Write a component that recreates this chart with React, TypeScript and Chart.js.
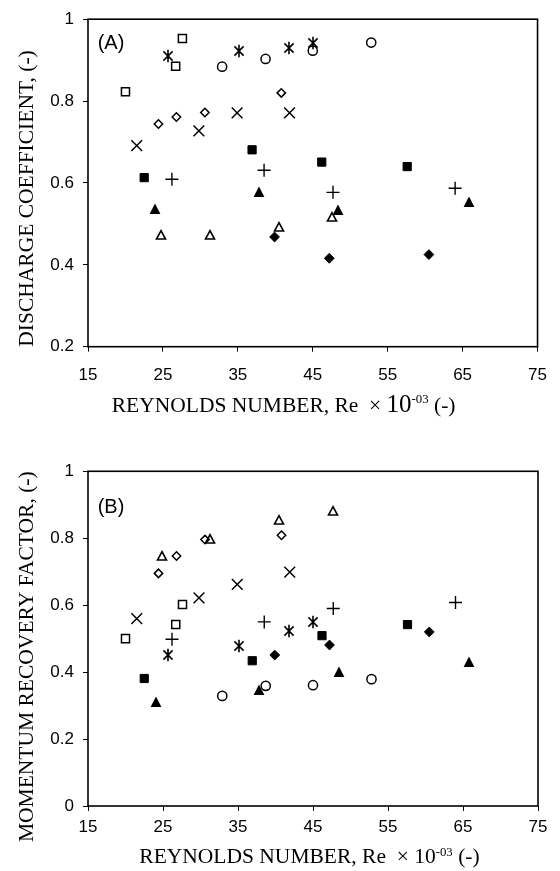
import React, { useEffect, useRef } from "react";
import { Chart, registerables } from "chart.js";

Chart.register(...registerables);

// ---------------- data ----------------
const xTickValues = [15, 25, 35, 45, 55, 65, 75];
const cdTickValues = [0.2, 0.4, 0.6, 0.8, 1];
const mrfTickValues = [0, 0.2, 0.4, 0.6, 0.8, 1];

const openSquareRe = [20.0, 26.7, 27.6];
const openSquareCd = [0.823, 0.885, 0.953];
const openSquareMrf = [0.5, 0.542, 0.602];

const asteriskRe = [25.7, 35.1, 41.8, 45.0];
const asteriskCd = [0.911, 0.923, 0.929, 0.943];
const asteriskMrf = [0.451, 0.479, 0.522, 0.55];

const openCircleRe = [32.9, 38.7, 45.0, 52.8];
const openCircleCd = [0.884, 0.903, 0.923, 0.943];
const openCircleMrf = [0.329, 0.359, 0.361, 0.379];

const openDiamondRe = [24.4, 26.8, 30.6, 40.8];
const openDiamondCd = [0.744, 0.761, 0.772, 0.82];
const openDiamondMrf = [0.695, 0.747, 0.796, 0.809];

const crossRe = [21.5, 29.8, 34.9, 41.9];
const crossCd = [0.691, 0.727, 0.771, 0.771];
const crossMrf = [0.56, 0.622, 0.662, 0.699];

const filledSquareRe = [22.5, 36.9, 46.2, 57.6];
const filledSquareCd = [0.613, 0.681, 0.651, 0.64];
const filledSquareMrf = [0.381, 0.434, 0.509, 0.542];

const plusRe = [26.2, 38.5, 47.7, 64.0];
const plusCd = [0.609, 0.631, 0.577, 0.587];
const plusMrf = [0.498, 0.55, 0.59, 0.608];

const filledTriangleRe = [24.0, 37.8, 48.4, 65.8];
const filledTriangleCd = [0.537, 0.577, 0.535, 0.553];
const filledTriangleMrf = [0.31, 0.346, 0.401, 0.431];

const openTriangleRe = [24.8, 31.3, 40.5, 47.6];
const openTriangleCd = [0.473, 0.473, 0.493, 0.517];
const openTriangleMrf = [0.748, 0.799, 0.854, 0.881];

const filledDiamondRe = [39.9, 47.2, 60.5];
const filledDiamondCd = [0.468, 0.416, 0.425];
const filledDiamondMrf = [0.451, 0.481, 0.52];

// ---------------- styles ----------------
const SANS = '"Liberation Sans", Arial, sans-serif';
const SERIF = '"Liberation Serif", "Times New Roman", serif';

function markerCanvas(kind: string): HTMLCanvasElement {
  const c = document.createElement("canvas");
  const s = 16;
  c.width = s;
  c.height = s;
  const g = c.getContext("2d")!;
  g.translate(s / 2, s / 2);
  g.strokeStyle = "#000";
  g.fillStyle = "#000";
  g.lineWidth = 1.6;
  g.lineCap = "butt";
  if (kind === "filledTriangle") {
    g.beginPath();
    g.moveTo(0, -5.4);
    g.lineTo(5.4, 5);
    g.lineTo(-5.4, 5);
    g.closePath();
    g.fill();
  } else if (kind === "openTriangle") {
    g.beginPath();
    g.moveTo(0, -4.3);
    g.lineTo(4.5, 4);
    g.lineTo(-4.5, 4);
    g.closePath();
    g.stroke();
  } else if (kind === "asterisk") {
    g.beginPath();
    g.moveTo(-4.6, -4.6);
    g.lineTo(4.6, 4.6);
    g.moveTo(-4.6, 4.6);
    g.lineTo(4.6, -4.6);
    g.moveTo(0, -6.2);
    g.lineTo(0, 6.2);
    g.stroke();
  }
  return c;
}

type SeriesDef = {
  label: string;
  re: number[];
  cd: number[];
  mrf: number[];
  style: any;
};

function seriesDefs(): SeriesDef[] {
  const open = { backgroundColor: "rgba(255,255,255,0)", borderColor: "#000", pointBorderWidth: 1.5 };
  const filled = { backgroundColor: "#000", borderColor: "#000", pointBorderWidth: 1 };
  return [
    { label: "open circle", re: openCircleRe, cd: openCircleCd, mrf: openCircleMrf, style: { ...open, pointStyle: "circle", pointRadius: 4.6 } },
    { label: "open square", re: openSquareRe, cd: openSquareCd, mrf: openSquareMrf, style: { ...open, pointStyle: "rect", pointRadius: 5.7 } },
    { label: "open diamond", re: openDiamondRe, cd: openDiamondCd, mrf: openDiamondMrf, style: { ...open, pointStyle: "rectRot", pointRadius: 4.2 } },
    { label: "cross", re: crossRe, cd: crossCd, mrf: crossMrf, style: { ...open, pointStyle: "crossRot", pointRadius: 7.6 } },
    { label: "plus", re: plusRe, cd: plusCd, mrf: plusMrf, style: { ...open, pointStyle: "cross", pointRadius: 6.5, pointBorderWidth: 1.4 } },
    { label: "asterisk", re: asteriskRe, cd: asteriskCd, mrf: asteriskMrf, style: { ...open, pointStyle: markerCanvas("asterisk"), pointRadius: 6 } },
    { label: "open triangle", re: openTriangleRe, cd: openTriangleCd, mrf: openTriangleMrf, style: { ...open, pointStyle: markerCanvas("openTriangle"), pointRadius: 6 } },
    { label: "filled square", re: filledSquareRe, cd: filledSquareCd, mrf: filledSquareMrf, style: { ...filled, pointStyle: "rect", pointRadius: 5.8 } },
    { label: "filled triangle", re: filledTriangleRe, cd: filledTriangleCd, mrf: filledTriangleMrf, style: { ...filled, pointStyle: markerCanvas("filledTriangle"), pointRadius: 6 } },
    { label: "filled diamond", re: filledDiamondRe, cd: filledDiamondCd, mrf: filledDiamondMrf, style: { ...filled, pointStyle: "rectRot", pointRadius: 4.9 } },
  ];
}

type PanelCfg = {
  key: "A" | "B";
  height: number;
  padTop: number;
  xAxisHeight: number;
  yMin: number;
  yTicks: number[];
  xTickPad: number;
  label: string;
  labelDy: number;
  yTitle: string;
  yTitleCy: number;
  xTitleX: number;
  xTitleBase: number;
  tenSize: number;
  supRaise: number;
};

const panels: PanelCfg[] = [
  {
    key: "A", height: 430, padTop: 12.5, xAxisHeight: 83.3, yMin: 0.2, yTicks: cdTickValues, xTickPad: 13,
    label: "(A)", labelDy: 30.2, yTitle: "DISCHARGE COEFFICIENT, (-)", yTitleCy: 198.5,
    xTitleX: 111.7, xTitleBase: 412, tenSize: 25, supRaise: 9,
  },
  {
    key: "B", height: 441, padTop: 41.3, xAxisHeight: 65, yMin: 0, yTicks: mrfTickValues, xTickPad: 6,
    label: "(B)", labelDy: 42, yTitle: "MOMENTUM RECOVERY FACTOR, (-)", yTitleCy: 226.7,
    xTitleX: 139.3, xTitleBase: 433, tenSize: 21.5, supRaise: 7.5,
  },
];

const crispImages = {
  id: "crispImages",
  beforeDatasetsDraw(chart: any) {
    chart.ctx.save();
    chart.ctx.imageSmoothingEnabled = false;
  },
  afterDatasetsDraw(chart: any) {
    chart.ctx.restore();
  },
};

function textPlugin(p: PanelCfg) {
  return {
    id: "panelText" + p.key,
    afterDraw(chart: any) {
      const { ctx, chartArea } = chart;
      ctx.save();
      // frame
      ctx.strokeStyle = "#000";
      ctx.lineWidth = 1.6;
      ctx.strokeRect(chartArea.left, chartArea.top, chartArea.right - chartArea.left, chartArea.bottom - chartArea.top);
      ctx.fillStyle = "#000";
      // panel label
      ctx.font = `20px ${SANS}`;
      ctx.textAlign = "left";
      ctx.textBaseline = "alphabetic";
      ctx.fillText(p.label, chartArea.left + 9.7, chartArea.top + p.labelDy);
      // y title
      ctx.save();
      ctx.translate(32.5, p.yTitleCy);
      ctx.rotate(-Math.PI / 2);
      ctx.textAlign = "center";
      ctx.font = `21.5px ${SERIF}`;
      ctx.fillText(p.yTitle, 0, 0);
      ctx.restore();
      // x title in pieces (with superscript)
      let x = p.xTitleX;
      const base = p.xTitleBase;
      const piece = (t: string, size: number, dy = 0) => {
        ctx.font = `${size}px ${SERIF}`;
        ctx.fillText(t, x, base - dy);
        x += ctx.measureText(t).width;
      };
      piece("REYNOLDS NUMBER, Re  \u00D7 ", 21.5);
      piece("10", p.tenSize);
      piece("-03", 12.8, p.supRaise);
      piece(" (-)", 21.5);
      ctx.restore();
    },
  };
}

function Panel({ p }: { p: PanelCfg }) {
  const ref = useRef<HTMLCanvasElement>(null);
  useEffect(() => {
    const defs = seriesDefs();
    const datasets = defs.map((d) => ({
      label: d.label,
      data: d.re.map((r, i) => ({ x: r, y: p.key === "A" ? d.cd[i] : d.mrf[i] })),
      showLine: false,
      ...d.style,
      pointHoverRadius: d.style.pointRadius,
    }));
    const chart = new Chart(ref.current!, {
      type: "scatter",
      data: { datasets },
      plugins: [crispImages, textPlugin(p)],
      options: {
        animation: false,
        responsive: false,
        maintainAspectRatio: false,
        events: [],
        layout: { padding: { top: p.padTop, right: 22, bottom: 0, left: 0 } },
        plugins: { legend: { display: false }, tooltip: { enabled: false }, title: { display: false } },
        scales: {
          x: {
            type: "linear",
            min: xTickValues[0],
            max: xTickValues[xTickValues.length - 1],
            afterBuildTicks: (s: any) => {
              s.ticks = xTickValues.map((v) => ({ value: v }));
            },
            afterFit: (s: any) => {
              s.height = p.xAxisHeight;
            },
            ticks: {
              autoSkip: false,
              maxRotation: 0,
              color: "#000",
              padding: p.xTickPad,
              font: { family: SANS, size: 17 },
              callback: (v: any) => String(v),
            },
            grid: { drawOnChartArea: false, drawTicks: true, tickLength: 5, color: "#000", tickColor: "#000", lineWidth: 1 },
            border: { display: false },
          },
          y: {
            type: "linear",
            min: p.yMin,
            max: 1,
            afterBuildTicks: (s: any) => {
              s.ticks = p.yTicks.map((v) => ({ value: v }));
            },
            afterFit: (s: any) => {
              s.width = 88;
            },
            ticks: {
              autoSkip: false,
              color: "#000",
              padding: 9,
              font: { family: SANS, size: 17 },
              callback: (v: any) => String(v),
            },
            grid: { drawOnChartArea: false, drawTicks: true, tickLength: 5, color: "#000", tickColor: "#000", lineWidth: 1 },
            border: { display: false },
          },
        },
      } as any,
    });
    return () => chart.destroy();
  }, []);
  return <canvas ref={ref} width={560} height={p.height} style={{ display: "block", width: 560, height: p.height }} />;
}

export default function App() {
  return (
    <div style={{ position: "absolute", left: 0, top: 0, width: 560, height: 871, background: "#fff" }}>
      {panels.map((p) => (
        <Panel key={p.key} p={p} />
      ))}
    </div>
  );
}
